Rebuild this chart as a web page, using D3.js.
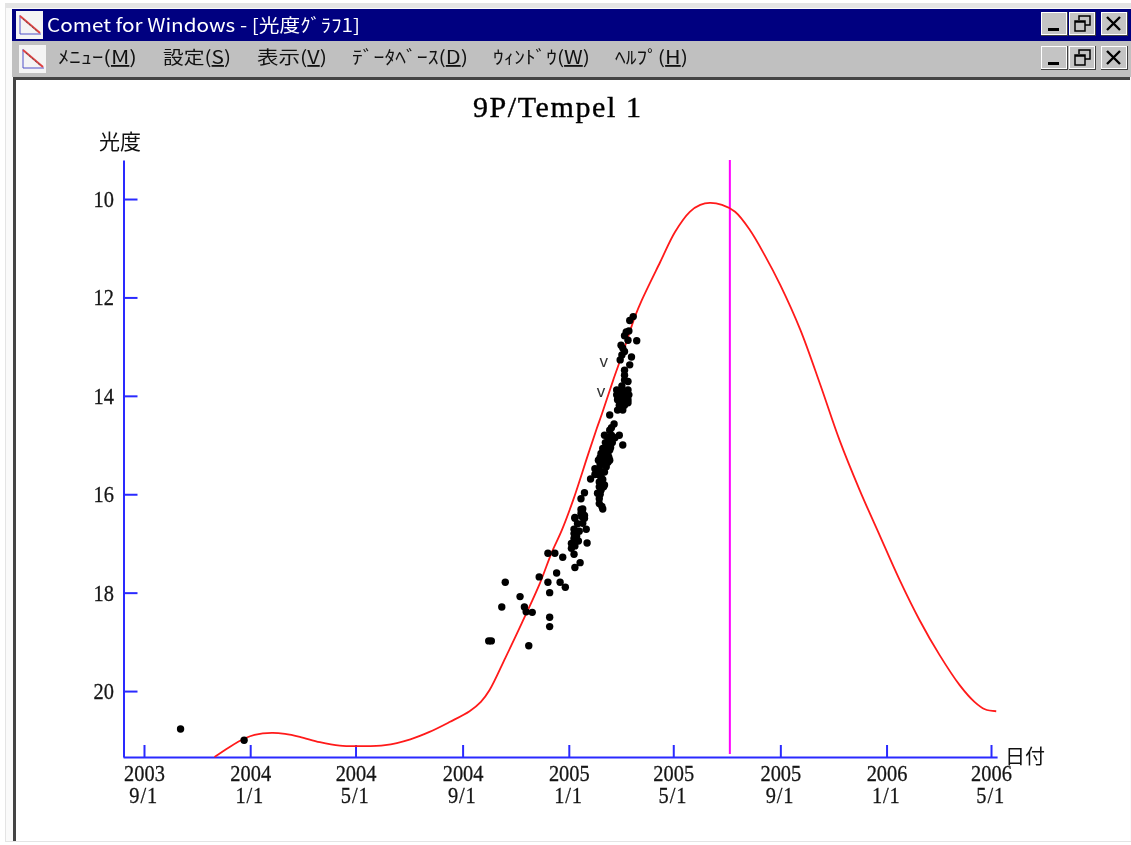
<!DOCTYPE html>
<html>
<head>
<meta charset="utf-8">
<title>Comet for Windows</title>
<script src="https://cdn.jsdelivr.net/npm/d3@7"></script>
<style>
  body { margin: 0; background: #fff; }
  svg { display: block; filter: blur(0.35px); }
  .num { font-family: "Liberation Serif", serif; font-size: 24px; fill: #151515; stroke: #151515; stroke-width: 0.3; }
  .jp { font-family: "Noto Sans CJK JP", sans-serif; fill: #111; }
</style>
</head>
<body>
<div id="chart"></div>
<script>
// observed magnitudes: days since 2003/9/1, magnitude
const obsDays = [42.5,115,
  562.3,558.3,554.5,557.5,552.9,556.4,566.7,548,550.6,552.5,549,547.6,560,558.3,552.5,552.5,552.5,556.4,
  543.7,549.9,556.4,543.7,550.6,557.5,544.9,550.6,556.4,546.8,552.5,544.9,550.6,535.3,
  540,535.3,529.6,546.8,537.3,535.3,550.7,527.7,533.4,525.8,531.5,535.3,522,527.7,531.5,518.1,523.9,520,
  513.1,525.8,523.9,529.6,525.8,521.9,506.6,502.8,523.1,523.9,527.7,504,502.8,506.6,495.1,
  396.7,399.8,442.3,415.5,411.3,432,437.7,439.6,446.1,466.4,466.4,454.2,464.5,466.4,464.5,472.9,481,474.8,
  478.7,484.8,495.1,501.7,509.3,494,491.3,491.3,494,494,494,508.6,504.7,506.6,504.7,502.8,495.1,
  528,535,529,533,524,534,528,533,524,530,525,529,522,518,527,523,528,524,526,530,538,533,541,537,536,
  549,545,553,547,554,549,556,498,500,497,495,503,499];
const obsMags = [20.77,21.0,
  12.39,12.47,12.70,12.68,12.78,12.87,12.88,12.97,13.03,13.10,13.17,13.27,13.21,13.37,13.48,13.58,13.68,13.71,
  13.88,13.88,13.88,13.98,13.98,13.98,14.08,14.08,14.08,14.19,14.19,14.29,14.29,14.39,
  14.57,14.70,14.80,14.80,14.80,14.90,15.0,15.07,15.0,15.17,15.14,15.31,15.31,15.27,15.44,15.48,15.48,15.58,
  15.69,15.65,15.75,15.81,15.92,15.98,15.97,16.09,16.09,16.19,16.30,16.30,16.39,16.43,16.47,
  18.98,18.98,19.08,17.79,18.29,18.08,18.29,18.39,18.40,18.50,18.69,17.68,17.79,18.0,17.20,17.20,17.28,17.60,
  17.79,17.89,17.49,17.39,16.99,17.22,17.10,17.0,16.90,16.80,16.71,16.71,16.59,16.49,16.39,16.31,16.49,
  15.1,15.1,15.2,15.2,15.25,15.25,15.35,15.35,15.4,15.4,15.55,15.55,15.6,15.6,15.7,15.85,15.85,16.0,16.25,14.95,14.95,14.85,14.85,14.65,15.05,
  13.8,13.93,13.93,14.03,14.03,14.14,14.14,16.6,16.75,16.85,17.05,16.45,16.95];

// "v" marks (fainter than)
const limitDays = [528.4,525];
const limitMags = [13.29,13.9];

// predicted light curve
const curveDays = [81.6,98.8,116,127.5,147,162,179,202,225,248,277,306,328.5,351.5,374.5,387,397.5,415,434,455.5,468,480,493,510,520,526,539,550,564,572,593,610,627,639,650,664,679,696,713,731,754,777,799.5,822.5,845.5,868.5,891.5,914.5,937,954.6,966,979];
const curveMags = [21.34,21.14,20.96,20.89,20.85,20.87,20.93,21.04,21.11,21.12,21.10,20.98,20.83,20.63,20.41,20.22,19.98,19.33,18.62,17.80,17.20,16.73,16.12,15.20,14.67,14.37,13.68,13.13,12.39,12.05,11.28,10.67,10.26,10.12,10.08,10.12,10.26,10.63,11.14,11.75,12.66,13.78,14.90,15.91,16.83,17.74,18.56,19.27,19.88,20.22,20.37,20.41];

const magTicks = [10,12,14,16,18,20];
const dateTicks = ["2003-09-01","2004-01-01","2004-05-01","2004-09-01","2005-01-01","2005-05-01","2005-09-01","2006-01-01","2006-05-01"];
const yearLabels = ["2003","2004","2004","2004","2005","2005","2005","2006","2006"];
const dayLabels = ["9/1","1/1","5/1","9/1","1/1","5/1","9/1","1/1","5/1"];
const periDate = "2005-07-05";

const width = 1131, height = 845;
const parse = d3.utcParse("%Y-%m-%d");
const start = parse("2003-09-01");
const toDate = d => d3.utcDay.offset(start, d);

const svg = d3.select("#chart").append("svg")
  .attr("width", width)
  .attr("height", height);

// window frame
function drawWindow() {
  svg.append("rect").attr("x", 5).attr("y", 3).attr("width", 1126).attr("height", 839).attr("fill", "#e4e4e4");
  svg.append("rect").attr("x", 6).attr("y", 8).attr("width", 1125).attr("height", 833).attr("fill", "#fafafa");
  svg.append("rect").attr("x", 12).attr("y", 9).attr("width", 1119).attr("height", 32).attr("fill", "#000080");
  svg.append("rect").attr("x", 12).attr("y", 41).attr("width", 1119).attr("height", 36).attr("fill", "#c0c0c0");
  svg.append("rect").attr("x", 13).attr("y", 77).attr("width", 1117).attr("height", 3).attr("fill", "#444");
  svg.append("rect").attr("x", 13).attr("y", 77).attr("width", 3).attr("height", 764).attr("fill", "#444");
  svg.append("rect").attr("x", 16).attr("y", 80).attr("width", 1114).attr("height", 761).attr("fill", "#fff");
  drawIcon(16, 11);
  drawIcon(19, 45);

  svg.append("text").attr("class", "jp")
    .attr("x", 47).attr("y", 32)
    .attr("textLength", 313).attr("lengthAdjust", "spacingAndGlyphs")
    .style("fill", "#fff").style("font-size", "18px")
    .text("Comet for Windows - [光度ｸﾞﾗﾌ1]");

  const menus = [["ﾒﾆｭｰ(", "M", ")", 58, 79], ["設定(", "S", ")", 163, 68], ["表示(", "V", ")", 257, 70],
    ["ﾃﾞｰﾀﾍﾞｰｽ(", "D", ")", 352, 116], ["ｳｨﾝﾄﾞｳ(", "W", ")", 493, 97], ["ﾍﾙﾌﾟ(", "H", ")", 615, 73]];
  menus.forEach(m => {
    const t = svg.append("text").attr("class", "jp")
      .attr("x", m[3]).attr("y", 64)
      .attr("textLength", m[4]).attr("lengthAdjust", "spacingAndGlyphs")
      .style("font-size", "18px");
    t.append("tspan").text(m[0]);
    t.append("tspan").style("text-decoration", "underline").text(m[1]);
    t.append("tspan").text(m[2]);
  });

  drawButtons(12);
  drawButtons(46);
}

function drawIcon(x, y) {
  const g = svg.append("g").attr("transform", `translate(${x},${y})`);
  g.append("rect").attr("width", 27).attr("height", 28).attr("fill", "#f4f4f4");
  g.append("path").attr("d", "M4 4V23H25").attr("fill", "none").attr("stroke", "#5050c8").attr("stroke-width", 1);
  g.append("path").attr("d", "M4 5L24 22").attr("fill", "none").attr("stroke", "#e04040").attr("stroke-width", 2);
  g.append("path").attr("d", "M7 8L22 21").attr("fill", "none").attr("stroke", "#555").attr("stroke-width", 1).attr("stroke-dasharray", "2 2");
}

function drawButtons(y) {
  [[1041, "min"], [1069, "max"], [1101, "close"]].forEach(b => {
    const g = svg.append("g").attr("transform", `translate(${b[0]},${y})`);
    g.append("rect").attr("width", 27).attr("height", 24).attr("fill", "#404040");
    g.append("rect").attr("width", 26).attr("height", 23).attr("fill", "#fff");
    g.append("rect").attr("x", 1).attr("y", 1).attr("width", 24).attr("height", 21).attr("fill", "#c4c4c4");
    if (b[1] == "min") {
      g.append("rect").attr("x", 7).attr("y", 16).attr("width", 11).attr("height", 3).attr("fill", "#000");
    } else if (b[1] == "max") {
      g.append("path").attr("d", "M10 8V4H21V13H16M6 9H16V19H6Z M6 10H16").attr("fill", "none").attr("stroke", "#000").attr("stroke-width", 1.5);
    } else {
      g.append("path").attr("d", "M6 5L19 18M19 5L6 18").attr("fill", "none").attr("stroke", "#000").attr("stroke-width", 2.4);
    }
  });
}

drawWindow();

const x = d3.scaleUtc()
  .domain([toDate(-24), toDate(980)])
  .range([123.1, 997.1]);

const y = d3.scaleLinear()
  .domain([9.207, 21.34])
  .range([160, 757]);

// axes
const xAxis = svg.append("g")
  .attr("transform", "translate(0,757)")
  .call(d3.axisBottom(x).tickValues(dateTicks.map(parse)).tickSize(-12).tickSizeOuter(0).tickFormat(""));

const yAxis = svg.append("g")
  .attr("transform", "translate(123.5,0)")
  .call(d3.axisLeft(y).tickValues(magTicks).tickSize(-14).tickSizeOuter(0).tickFormat(""));

svg.selectAll(".domain, .tick line")
  .attr("stroke", "#2a2aff")
  .attr("stroke-width", 2);

xAxis.selectAll(".tick").each(function (d, i) {
  const label = d3.select(this).append("text").attr("class", "num")
    .attr("text-anchor", "middle")
    .attr("transform", "scale(0.85,1)")
    .style("fill", null);
  label.append("tspan").attr("x", 0).attr("y", 24).text(yearLabels[i]);
  label.append("tspan").attr("x", -1).attr("dy", 22).style("letter-spacing", "1px").text(dayLabels[i]);
});

yAxis.selectAll(".tick").each(function (d) {
  d3.select(this).append("text").attr("class", "num")
    .attr("text-anchor", "end")
    .attr("transform", "translate(-9.5,7.5) scale(0.85,1)")
    .style("fill", null)
    .text(d);
});

// perihelion line
svg.append("line")
  .attr("x1", x(parse(periDate))).attr("x2", x(parse(periDate)))
  .attr("y1", 160).attr("y2", 754)
  .attr("stroke", "#ff00ff").attr("stroke-width", 2);

// light curve
const line = d3.line()
  .x(d => x(toDate(d[0])))
  .y(d => y(d[1]))
  .curve(d3.curveCatmullRom);

svg.append("path")
  .datum(d3.zip(curveDays, curveMags))
  .attr("d", line)
  .attr("fill", "none")
  .attr("stroke", "#ff1a1a")
  .attr("stroke-width", 1.8);

// observations
svg.append("g").selectAll("circle")
  .data(d3.zip(obsDays, obsMags))
  .join("circle")
  .attr("cx", d => x(toDate(d[0])))
  .attr("cy", d => y(d[1]))
  .attr("r", 3.7)
  .attr("fill", "#000");

svg.append("g").selectAll("text")
  .data(d3.zip(limitDays, limitMags))
  .join("text")
  .attr("x", d => x(toDate(d[0])))
  .attr("y", d => y(d[1]) + 6)
  .attr("text-anchor", "middle")
  .attr("font-family", "Liberation Sans, sans-serif")
  .attr("font-size", 17)
  .attr("fill", "#333")
  .text("v");

// title and axis names
svg.append("text")
  .attr("x", 557).attr("y", 117)
  .attr("text-anchor", "middle")
  .attr("font-family", "Liberation Serif, serif")
  .attr("font-size", 30)
  .attr("stroke", "#000").attr("stroke-width", 0.4)
  .attr("textLength", 168).attr("lengthAdjust", "spacing")
  .text("9P/Tempel 1");

svg.append("text").attr("class", "jp")
  .attr("x", 99).attr("y", 149)
  .style("font-size", "21px")
  .text("光度");

svg.append("text").attr("class", "jp")
  .attr("x", 1005).attr("y", 764)
  .style("font-size", "20px")
  .text("日付");
</script>
</body>
</html>
